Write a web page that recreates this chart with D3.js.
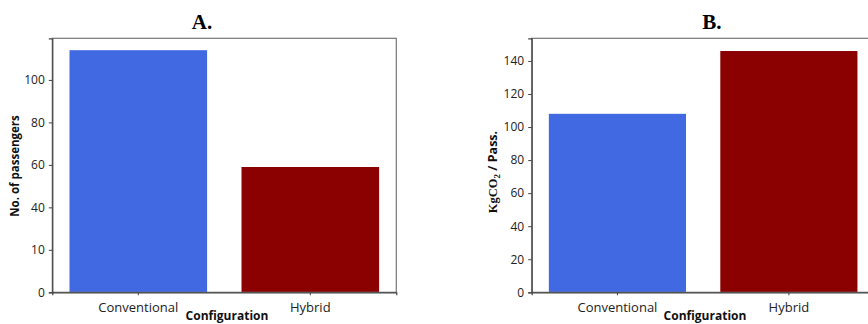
<!DOCTYPE html>
<html>
<head>
<meta charset="utf-8">
<script src="https://cdn.jsdelivr.net/npm/d3@7"></script>
<style>
  body { margin: 0; background: white; }
  svg { display: block; }
</style>
</head>
<body>
<svg id="chart"></svg>
<script>
const width = 868;
const height = 324;

// data
const categories = ["Conventional", "Hybrid"];
const passengers = [114, 59];
const co2PerPass = [108, 146];
const colors = ["#4169e1", "#8b0000"];

// panel A ticks (the original labels its 20 tick as "10")
const ticksA = [0, 20, 40, 60, 80, 100];
const tickLabelsA = ["0", "10", "40", "60", "80", "100"];
const ticksB = [0, 20, 40, 60, 80, 100, 120, 140];

let svg = d3.select('#chart')
        .attr('width', width)
        .attr('height', height);

function panel(opts) {
        let g = svg.append("g");
        let x = d3.scaleBand().domain(categories)
                .range([opts.left, opts.right])
                .paddingInner(0.2).paddingOuter(0.1);
        let y = d3.scaleLinear().domain([0, opts.ymax])
                .range([opts.bottom, opts.top]);

        // bars
        g.selectAll("rect.bar")
          .data(opts.values)
          .enter().append("rect")
          .attr("class", "bar")
          .attr("x", (d, i) => x(categories[i]))
          .attr("width", x.bandwidth())
          .attr("y", d => y(d))
          .attr("height", d => y(0) - y(d))
          .attr("fill", (d, i) => colors[i]);

        // frame
        g.append("rect")
          .attr("x", opts.left)
          .attr("y", opts.top)
          .attr("width", opts.right - opts.left)
          .attr("height", opts.bottom - opts.top)
          .attr("fill", "none")
          .attr("stroke", "#777")
          .attr("stroke-width", 1.2);

        let yAxis = d3.axisLeft(y).tickValues(opts.ticks).tickSize(3.5).tickPadding(4)
                .tickFormat((d, i) => opts.tickLabels ? opts.tickLabels[i] : d);
        let ya = g.append("g").attr("transform", `translate(${opts.left},0)`).call(yAxis);

        let xAxis = d3.axisBottom(x).tickSize(3).tickPadding(7);
        let xa = g.append("g").attr("transform", `translate(0,${opts.bottom})`).call(xAxis);

        [ya, xa].forEach(a => {
                a.select(".domain").attr("stroke", "#444").attr("stroke-width", 1.2);
                a.selectAll(".tick line").attr("stroke", "#444");
                a.selectAll(".tick text")
                  .attr("fill", "#222")
                  .style("font-family", "'Open Sans', 'Liberation Sans', sans-serif");
        });
        ya.selectAll(".tick text").style("font-size", "12px");
        xa.selectAll(".tick text").style("font-size", "13px");

        // title
        g.append("text")
          .attr("x", opts.titleX)
          .attr("y", 29)
          .attr("text-anchor", "middle")
          .style("font-family", "'Liberation Serif', 'DejaVu Serif', serif")
          .style("font-weight", "bold")
          .style("font-size", "21px")
          .text(opts.title);

        // x label
        g.append("text")
          .attr("x", opts.xLabelX)
          .attr("y", 320)
          .attr("text-anchor", "middle")
          .style("font-family", "'Open Sans', 'Liberation Sans', sans-serif")
          .style("font-weight", "bold")
          .style("font-size", "12px")
          .attr("fill", "#111")
          .text("Configuration");

        return g;
}

let gA = panel({
        left: 52.3, right: 396.3, top: 38.3, bottom: 292.3, ymax: 119.6,
        values: passengers, ticks: ticksA, tickLabels: tickLabelsA,
        title: "A.", titleX: 202, xLabelX: 227
});
gA.append("text")
  .attr("transform", "translate(19,166) rotate(-90)")
  .attr("text-anchor", "middle")
  .style("font-family", "'Open Sans', 'Liberation Sans', sans-serif")
  .style("font-weight", "bold")
  .style("font-size", "11.5px")
  .attr("fill", "#111")
  .text("No. of passengers");

let gB = panel({
        left: 531.7, right: 874.6, top: 38.3, bottom: 292.3, ymax: 153.7,
        values: co2PerPass, ticks: ticksB,
        title: "B.", titleX: 712, xLabelX: 705
});
let yl = gB.append("text")
  .attr("transform", "translate(497,172) rotate(-90)")
  .attr("text-anchor", "middle")
  .style("font-weight", "bold")
  .style("font-size", "12.5px")
  .attr("fill", "#111");
yl.append("tspan").style("font-family", "'Liberation Serif', serif").text("KgCO");
yl.append("tspan").style("font-family", "'Liberation Serif', serif")
  .style("font-size", "9px").attr("dy", 3).text("2");
yl.append("tspan").style("font-family", "'Open Sans', 'Liberation Sans', sans-serif")
  .attr("dy", -3).text(" / Pass.");
</script>
</body>
</html>
